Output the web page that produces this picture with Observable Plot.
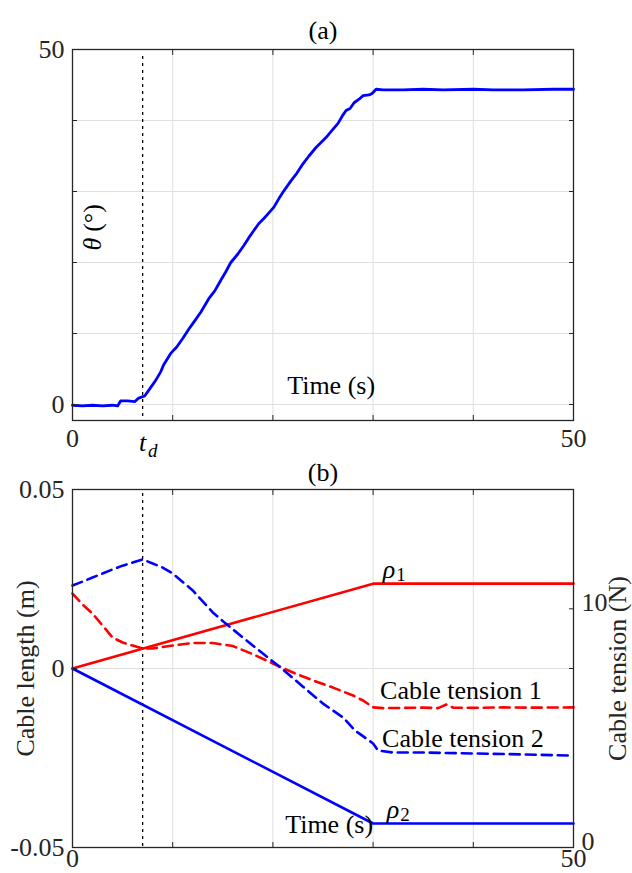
<!DOCTYPE html>
<html><head><meta charset="utf-8">
<script src="https://cdn.jsdelivr.net/npm/d3@7"></script>
<script src="https://cdn.jsdelivr.net/npm/@observablehq/plot@0.6"></script>
<style>
html,body{margin:0;padding:0;background:#fff;}
#wrap{position:relative;width:632px;height:873px;overflow:hidden;background:#fff;font-family:"Liberation Serif","Times New Roman",Times,serif;}
#wrap > svg{position:absolute;left:0;}
#wrap svg text{font-family:"Liberation Serif","Times New Roman",Times,serif;}
</style></head><body><div id="wrap"></div>
<script>
// ---------- data ----------
const thetaT = [0,1,2,3,4,4.5,4.8,5.5,6.2,6.6,7.2,7.6,8.3,8.8,9.1,9.8,10.4,11.0,11.6,12.0,12.8,13.6,14.2,14.8,15.3,15.8,16.5,17.1,17.6,18.1,18.6,19.1,19.6,20.1,20.6,21.0,21.8,22.4,23.0,23.6,24.3,24.8,25.3,25.9,26.5,27.0,27.3,27.7,28.1,28.6,29.0,29.6,29.9,30.3,31,33,35,37,40,42,45,48,50];
const thetaDeg = [-0.1,-0.2,-0.1,-0.2,-0.1,-0.2,0.5,0.5,0.4,0.9,1.2,2.0,3.4,4.6,5.6,7.2,8.1,9.3,10.6,11.4,13.0,14.9,16.0,17.5,18.7,20.0,21.2,22.4,23.5,24.5,25.5,26.2,27.0,27.8,29.0,29.9,31.5,32.6,33.9,35.0,36.2,36.9,37.6,38.6,39.6,40.8,41.4,41.7,42.5,43.0,43.5,43.6,43.8,44.4,44.3,44.3,44.4,44.3,44.4,44.3,44.3,44.4,44.4];

const rampEnd = 30;
const rhoT = [0, rampEnd, 50];
const rho1 = [0, 0.0237, 0.0237];
const rho2 = [0, -0.0433, -0.0433];

const tension1T = [0,1,2,3,4,5,6,7,8,10,12,14,16,18,20,22,24,26,28,29,30,31,33,35,36.5,37.3,38,40,43,46,50];
const tension1N = [10.64,10.18,9.80,9.30,8.80,8.59,8.46,8.34,8.34,8.46,8.57,8.57,8.44,8.10,7.71,7.33,7.00,6.70,6.37,6.16,5.87,5.84,5.85,5.86,5.84,5.99,5.86,5.85,5.87,5.86,5.87];
const tension2T = [0,1,2,3,4,5,6,7,8,9,10,12,14,15.3,17,19,21,23,25,27,28.2,30,30.5,32,35,40,45,50];
const tension2N = [10.98,11.14,11.31,11.48,11.65,11.81,11.94,12.07,11.90,11.73,11.48,10.77,9.85,9.38,8.80,8.13,7.46,6.74,6.03,5.45,4.90,4.36,4.06,3.98,3.98,3.94,3.90,3.85];

const tD = 7;
const xTicks = [0,10,20,30,40,50];
const xGrid = [10,20,30,40];
const xTickLabels = [0,50];
const thetaDomain = [-2.25,50];
const thetaTicks = [0,10,20,30,40,50];
const thetaGrid = [0,10,20,30,40];
const thetaTickLabels = [0,50];
const lengthDomain = [-0.05,0.05];
const lengthTicks = [-0.05,0,0.05];
const lengthGrid = [0];
const tensionDomain = [0,15];
const tensionTickLabels = [0,10];
const tensionTickMarks = [7.5,10];

// ---------- helpers ----------
const zip2 = (xs, ys) => xs.map((x,i) => ({t:x, v:ys[i]}));
const theta = zip2(thetaT, thetaDeg);
const rho1Data = zip2(rhoT, rho1);
const rho2Data = zip2(rhoT, rho2);
const ten1 = zip2(tension1T, tension1N);
const ten2 = zip2(tension2T, tension2N);
// map right-axis (N) values into left-axis (m) units
const toLen = n => lengthDomain[0] + (n - tensionDomain[0]) / (tensionDomain[1]-tensionDomain[0]) * (lengthDomain[1]-lengthDomain[0]);
const fromLen = v => tensionDomain[0] + (v - lengthDomain[0]) / (lengthDomain[1]-lengthDomain[0]) * (tensionDomain[1]-tensionDomain[0]);

const FONT = '"Liberation Serif","Times New Roman",Times,serif';
const GRID = "#dfdfdf";
const AX = "#262626";
const common = {
  width: 632, marginLeft: 72, marginRight: 59,
  style: {background: "transparent", fontFamily: FONT, fontSize: "26px", color: AX, overflow: "visible"}
};
const tickMarks = (k, anchor, ticks) => (k === "x" ? Plot.axisX : Plot.axisY)(ticks, {anchor, tickSize: -5, tickFormat: () => "", label: null, strokeWidth: 1});

// ---------- panel (a) ----------
const A = Plot.plot({
  ...common, height: 470, marginTop: 49, marginBottom: 50,
  x: {domain: [0,50]}, y: {domain: thetaDomain},
  marks: [
    Plot.gridX(xGrid, {stroke: GRID, strokeOpacity: 1}),
    Plot.gridY(thetaGrid, {stroke: GRID, strokeOpacity: 1}),
    Plot.ruleX([tD], {stroke: "#000", strokeDasharray: "3,4", strokeWidth: 1.3, insetTop: 7}),
    Plot.line(theta, {x: "t", y: "v", stroke: "#0000ff", strokeWidth: 2.8}),
    Plot.frame({stroke: AX, strokeWidth: 1.3}),
    tickMarks("x", "bottom", xTicks), tickMarks("x", "top", xTicks),
    tickMarks("y", "left", thetaTicks), tickMarks("y", "right", thetaTicks),
    Plot.axisX(xTickLabels, {anchor: "bottom", tickSize: 0, tickPadding: 8, label: null}),
    Plot.axisY(thetaTickLabels, {anchor: "left", tickSize: 0, tickPadding: 8, label: null}),
    Plot.text(["(a)"], {frameAnchor: "top", dy: -29, text: d => d, fill: "#000"}),
    Plot.text(["θ"], {frameAnchor: "left", textAnchor: "middle", dx: 20, dy: 9, rotate: -90, text: d => d, fontStyle: "italic", fill: "#000"}),
    Plot.text(["(°)"], {frameAnchor: "left", textAnchor: "middle", dx: 20, dy: -17, rotate: -90, text: d => d, fill: "#000"}),
    Plot.text(["Time (s)"], {x: () => rampEnd, frameAnchor: "bottom", textAnchor: "end", dx: 2, dy: -27, text: d => d, fill: "#000"}),
    Plot.text([tD], {x: d => d, frameAnchor: "bottom", textAnchor: "middle", dy: 30, text: () => "t", fontStyle: "italic", fill: "#000"}),
    Plot.text([tD], {x: d => d, frameAnchor: "bottom", textAnchor: "middle", dx: 10, dy: 36, text: () => "d", fontStyle: "italic", fontSize: 19, fill: "#000"})
  ]
});

// ---------- panel (b) ----------
const k1 = ten1[tension1T.indexOf(rampEnd)];
const B = Plot.plot({
  ...common, height: 433, marginTop: 49, marginBottom: 26,
  x: {domain: [0,50]}, y: {domain: lengthDomain},
  marks: [
    Plot.gridX(xGrid, {stroke: GRID, strokeOpacity: 1}),
    Plot.gridY(lengthGrid, {stroke: GRID, strokeOpacity: 1}),
    Plot.ruleX([tD], {stroke: "#000", strokeDasharray: "3,4", strokeWidth: 1.3, insetTop: 4}),
    Plot.line(rho1Data, {x: "t", y: "v", stroke: "#ff0000", strokeWidth: 2.6}),
    Plot.line(rho2Data, {x: "t", y: "v", stroke: "#0000ff", strokeWidth: 2.6}),
    Plot.line(ten1, {x: "t", y: d => toLen(d.v), stroke: "#ff0000", strokeWidth: 2.6, strokeDasharray: "10,6"}),
    Plot.line(ten2, {x: "t", y: d => toLen(d.v), stroke: "#0000ff", strokeWidth: 2.6, strokeDasharray: "10,6"}),
    Plot.frame({stroke: AX, strokeWidth: 1.3}),
    tickMarks("x", "bottom", xTicks), tickMarks("x", "top", xTicks),
    tickMarks("y", "left", lengthTicks), tickMarks("y", "right", tensionTickMarks.map(toLen)),
    Plot.axisX(xTickLabels, {anchor: "bottom", tickSize: 0, tickPadding: 1, label: null}),
    Plot.axisY(lengthTicks, {anchor: "left", tickSize: 0, tickPadding: 8, label: null, tickFormat: d => d === 0 ? "0" : d.toFixed(2)}),
    Plot.axisY(tensionTickLabels.map(toLen), {anchor: "right", tickSize: 0, tickPadding: 8, dy: -6, label: null, tickFormat: v => String(Math.round(fromLen(v)))}),
    Plot.text(["(b)"], {frameAnchor: "top", dy: -27, text: d => d, fill: "#000"}),
    Plot.text(["Cable length (m)"], {frameAnchor: "left", textAnchor: "middle", dx: -47, rotate: -90, text: d => d}),
    Plot.text(["Cable tension (N)"], {frameAnchor: "right", textAnchor: "middle", dx: 44, rotate: -90, text: d => d}),
    Plot.text([rho1Data[1]], {x: "t", y: "v", dx: 16, dy: -14, text: () => "ρ", fontStyle: "italic", fill: "#000"}),
    Plot.text([rho1Data[1]], {x: "t", y: "v", dx: 28, dy: -9, text: () => "1", fontSize: 19, fill: "#000"}),
    Plot.text([rho2Data[1]], {x: "t", y: "v", dx: 20, dy: -14, text: () => "ρ", fontStyle: "italic", fill: "#000"}),
    Plot.text([rho2Data[1]], {x: "t", y: "v", dx: 32, dy: -9, text: () => "2", fontSize: 19, fill: "#000"}),
    Plot.text([k1], {x: "t", y: d => toLen(d.v), dx: 7, dy: -17, textAnchor: "start", text: () => "Cable tension 1", fill: "#000"}),
    Plot.text([ten2[ten2.length-1]], {x: () => rampEnd, y: d => toLen(d.v), dx: 9, dy: -17, textAnchor: "start", text: () => "Cable tension 2", fill: "#000"}),
    Plot.text(["Time (s)"], {x: () => rampEnd, frameAnchor: "bottom", textAnchor: "end", dx: 0, dy: -15, text: d => d, fill: "#000"})
  ]
});

const wrap = document.getElementById("wrap");
A.style.top = "0px";
B.style.top = "440px";
wrap.appendChild(A);
wrap.appendChild(B);
</script></body></html>
